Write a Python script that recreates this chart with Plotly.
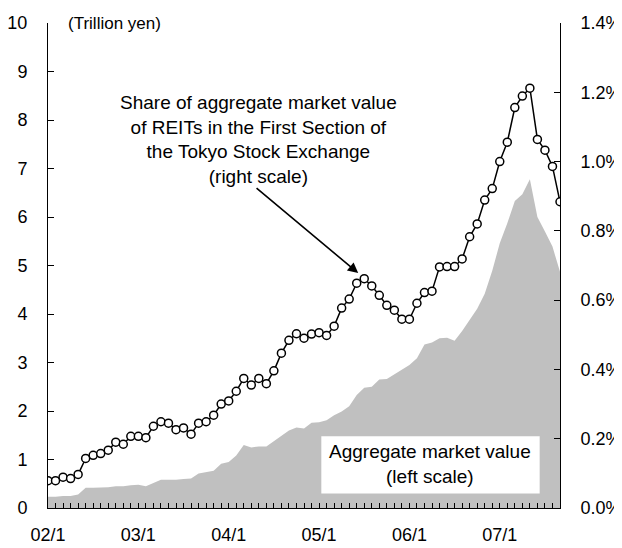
import plotly.graph_objects as go

# ---- data ----
year_labels = ["02/1", "03/1", "04/1", "05/1", "06/1", "07/1"]

# Share of aggregate market value of REITs in TSE First Section (%), monthly 2002/1 - 2007/9
share_pct = [0.079, 0.079, 0.089, 0.085, 0.097, 0.143, 0.152, 0.157, 0.167, 0.190,
             0.184, 0.207, 0.207, 0.203, 0.236, 0.249, 0.245, 0.226, 0.231, 0.213,
             0.245, 0.249, 0.268, 0.300, 0.309, 0.337, 0.374, 0.355, 0.374, 0.359,
             0.396, 0.447, 0.484, 0.503, 0.490, 0.502, 0.506, 0.498, 0.525, 0.577,
             0.603, 0.649, 0.662, 0.641, 0.614, 0.585, 0.571, 0.545, 0.545, 0.591,
             0.622, 0.626, 0.696, 0.697, 0.697, 0.719, 0.783, 0.820, 0.889, 0.922,
             1.000, 1.056, 1.156, 1.189, 1.212, 1.064, 1.033, 0.986, 0.884]

# Aggregate market value (trillion yen)
market_value = [0.23, 0.23, 0.25, 0.25, 0.28, 0.42, 0.42, 0.42, 0.43, 0.45,
                0.45, 0.47, 0.48, 0.45, 0.52, 0.58, 0.58, 0.58, 0.60, 0.61,
                0.71, 0.74, 0.77, 0.91, 0.95, 1.08, 1.30, 1.25, 1.27, 1.27,
                1.38, 1.50, 1.60, 1.66, 1.64, 1.76, 1.77, 1.81, 1.91, 1.99,
                2.10, 2.33, 2.48, 2.50, 2.65, 2.66, 2.76, 2.86, 2.95, 3.09,
                3.37, 3.41, 3.50, 3.51, 3.45, 3.65, 3.89, 4.11, 4.42, 4.89,
                5.46, 5.87, 6.33, 6.47, 6.78, 6.00, 5.70, 5.39, 4.87]

months = list(range(len(share_pct)))

left_ticks = list(range(0, 11))
right_ticks = [0.0, 0.2, 0.4, 0.6, 0.8, 1.0, 1.2, 1.4]
right_ticktext = [f"{v:.1f}%" for v in right_ticks]

FONT = "Arial, Liberation Sans, sans-serif"

fig = go.Figure()

fig.add_trace(go.Scatter(
    x=months, y=market_value, mode="lines", fill="tozeroy",
    line=dict(width=0, color="#C0C0C0"), fillcolor="#C0C0C0",
    yaxis="y", hoverinfo="skip"))

fig.add_trace(go.Scatter(
    x=months, y=share_pct, mode="lines+markers", yaxis="y2",
    line=dict(color="black", width=1.5),
    marker=dict(symbol="circle", size=8, color="white",
                line=dict(color="black", width=1.5))))

# x axis: monthly minor ticks inside, labels at Januaries
tickvals = months
ticktext = [year_labels[m // 12] if m % 12 == 0 else "" for m in months]

# page body has an 8px margin, so the figure is sized 8px smaller
fig.update_layout(
    width=614, height=540,
    margin=dict(l=40, r=62, t=15, b=40),
    paper_bgcolor="white", plot_bgcolor="white",
    showlegend=False,
    font=dict(family=FONT, size=19, color="black"),
    xaxis=dict(range=[0, len(months) - 1], tickmode="array",
               tickvals=tickvals, ticktext=ticktext,
               ticks="inside", ticklen=5, tickwidth=1, tickcolor="black",
               showline=True, linecolor="black", linewidth=1,
               showgrid=False, zeroline=False, automargin=False,
               ticklabelstandoff=10, tickfont=dict(size=18)),
    yaxis=dict(range=[0, 10], tickmode="array", tickvals=left_ticks,
               ticks="inside", ticklen=6, tickcolor="black",
               showline=True, linecolor="black", linewidth=1,
               showgrid=False, zeroline=False, automargin=False,
               ticklabelstandoff=16, tickfont=dict(size=18)),
    yaxis2=dict(range=[0, 1.4], overlaying="y", side="right",
                tickmode="array", tickvals=right_ticks, ticktext=right_ticktext,
                ticks="inside", ticklen=6, tickcolor="black",
                showline=True, linecolor="black", linewidth=1,
                showgrid=False, zeroline=False, automargin=False,
                ticklabelstandoff=16, tickfont=dict(size=18)),
)

# white box behind the area label
fig.add_shape(type="rect", xref="x", yref="y", x0=36.3, x1=65.3, y0=0.30, y1=1.48,
              fillcolor="white", line=dict(width=0), layer="above")

fig.add_annotation(xref="x", yref="y", x=50.8, y=0.91,
                   text="Aggregate market value<br>(left scale)",
                   showarrow=False, font=dict(size=19), align="center")

fig.add_annotation(xref="x", yref="y", x=27.9, y=7.59,
                   text="Share of aggregate market value<br>of REITs in the First Section of<br>"
                        "the Tokyo Stock Exchange<br>(right scale)",
                   showarrow=False, font=dict(size=19), align="center")

fig.add_annotation(xref="x", yref="y2", x=41.2, y=0.678,
                   axref="x", ayref="y2", ax=27.5, ay=0.927,
                   text="", showarrow=True, arrowhead=2, arrowsize=1.3,
                   arrowwidth=1.6, arrowcolor="black")

fig.add_annotation(xref="paper", yref="paper", x=18 / 512, y=1.0,
                   xanchor="left", yanchor="middle",
                   text="(Trillion yen)", showarrow=False, font=dict(size=17))

fig.write_html("out.html")
